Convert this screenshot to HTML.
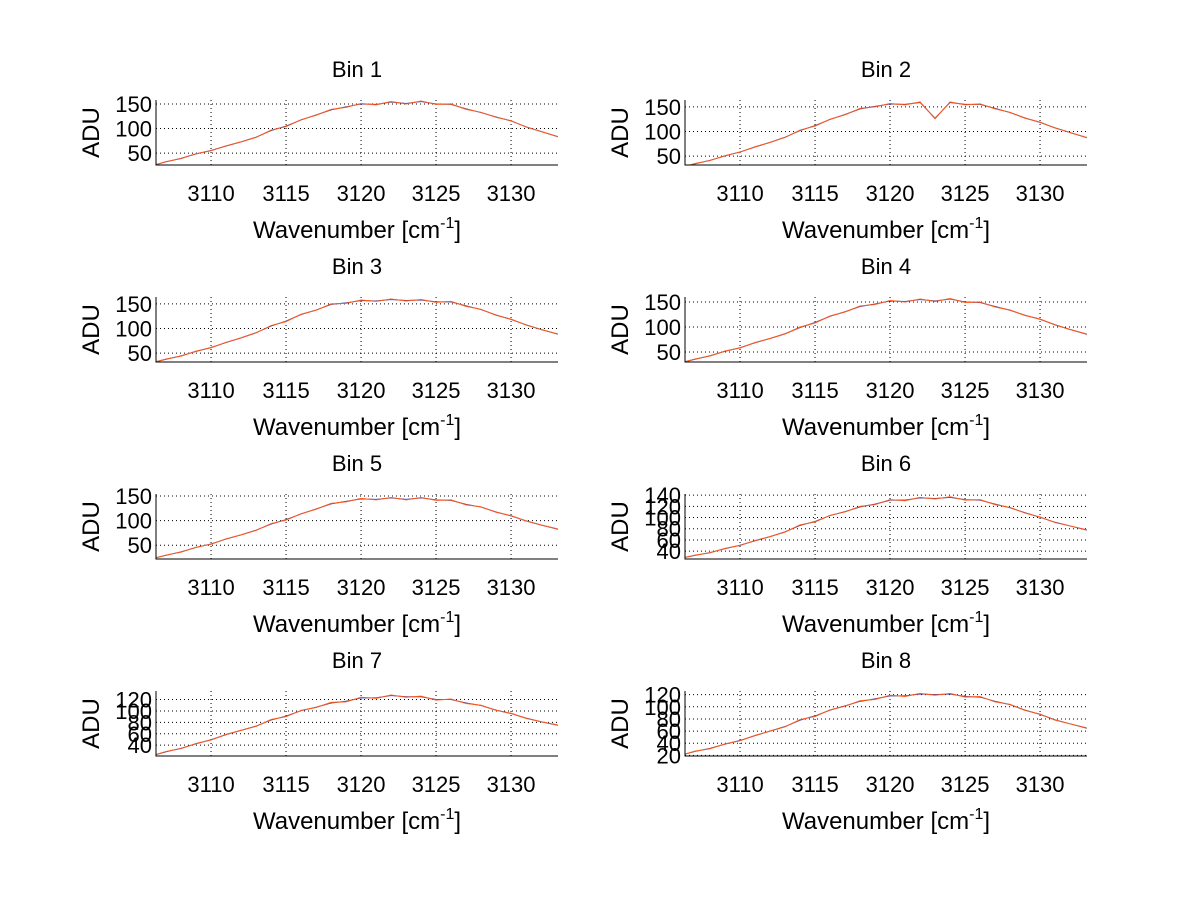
<!DOCTYPE html>
<html><head><meta charset="utf-8"><style>
body{margin:0;background:#fff}
svg{display:block}
text{font-family:"Liberation Sans",Arial,sans-serif;fill:#000}
</style></head><body>
<svg id="fig" width="1200" height="901" viewBox="0 0 1200 901"></svg>
<script>
const wavenumbers=[3106,3107,3108,3109,3110,3111,3112,3113,3114,3115,3116,3117,3118,3119,3120,3121,3122,3123,3124,3125,3126,3127,3128,3129,3130,3131,3132,3133,3134];
const bin1=[24,32,40,48,56,64,73,83,95,106,117,128,137,145,149,150,153,152,154,151,148,141,132,124,115,104,94,84,76];
const bin2=[26,34,42,50,59,68,78,89,101,113,124,135,145,152,155,156,158,128,158,156,154,148,138,128,118,108,98,88,80];
const bin3=[30,37,45,53,62,71,81,92,104,116,128,138,148,153,156,157,158,158,157,155,153,147,138,128,118,108,98,89,82];
const bin4=[28,35,43,51,59,68,77,87,98,110,121,131,140,147,151,152,154,153,155,151,148,142,133,124,115,105,95,86,78];
const bin5=[22,29,37,45,53,62,71,81,92,103,113,124,133,140,143,144,145,144,145,143,140,134,127,118,109,100,91,83,75];
const bin6=[27,32,38,44,51,58,66,75,85,94,103,111,118,125,130,132,134,135,135,133,130,125,117,109,100,92,85,78,72];
const bin7=[21,28,35,42,50,58,66,74,83,92,100,107,113,118,122,124,126,126,124,121,119,115,109,102,95,88,81,75,70];
const bin8=[20,26,32,38,45,52,60,68,77,86,94,102,108,114,117,119,120,121,120,118,115,110,103,95,87,79,72,65,60];
const noise=[0,1,-1,1,-1,1,0,-1,2,-2,1,-1,2,-2,2,-2,2,-2,2,-2,2,-2,1,-1,1,-1,0,1,-1];
const binData=[bin1,bin2,bin3,bin4,bin5,bin6,bin7,bin8];
const yRanges=[[26,158],[32,164],[32,164],[30,160],[22,154],[26,142],[21,135],[19,126]];
const yTicks=[[50,100,150],[50,100,150],[50,100,150],[50,100,150],[50,100,150],[40,60,80,100,120,140],[40,60,80,100,120],[20,40,60,80,100,120]];
const xTicks=[3110,3115,3120,3125,3130];
const xMin=3106.33,xMax=3133.13;

const NS="http://www.w3.org/2000/svg";
const svg=document.getElementById('fig');
function mk(tag,attrs,parent){const e=document.createElementNS(NS,tag);for(const k in attrs)e.setAttribute(k,attrs[k]);(parent||svg).appendChild(e);return e;}
const colX=[156,685],W=402,H=65,rowY=[100,297,494,691];
mk('defs',{}).innerHTML=rowY.flatMap((r,ri)=>colX.map((c,ci)=>`<clipPath id="c${ri}${ci}"><rect x="${c}" y="${r}" width="${W}" height="${H}"/></clipPath>`)).join('');
binData.forEach((data,i)=>{
  const ci=i%2,ri=Math.floor(i/2),x0=colX[ci],y0=rowY[ri];
  const g=mk('g',{});
  
  
  const [ymin,ymax]=yRanges[i];
  const sx=v=>x0+(v-xMin)/(xMax-xMin)*W;
  const sy=v=>y0+H-(v-ymin)/(ymax-ymin)*H;
  xTicks.forEach(t=>{
    const l=mk('line',{x1:sx(t),x2:sx(t),y1:y0,y2:y0+H,stroke:'#000','stroke-dasharray':'1,3','stroke-width':1},g);
    
    const tx=mk('text',{x:sx(t),y:y0+H+36,'font-size':22,'text-anchor':'middle'},g);tx.textContent=t;
    
  });
  yTicks[i].forEach(t=>{
    const l=mk('line',{x1:x0,x2:x0+W,y1:sy(t),y2:sy(t),stroke:'#000','stroke-dasharray':'1,3','stroke-width':1},g);
    
    const tx=mk('text',{x:x0-4,y:sy(t)+8,'font-size':22,'text-anchor':'end'},g);tx.textContent=t;
    
  });
  const pb=data.map((v,k)=>sx(wavenumbers[k])+','+sy(v+noise[k]*0.5)).join(' ');
  const blue=mk('polyline',{points:pb,fill:'none',stroke:'#3a3aa0','stroke-width':1,'clip-path':`url(#c${ri}${ci})`},g);
  
  const po=data.map((v,k)=>sx(wavenumbers[k])+','+sy(v+noise[k])).join(' ');
  const or=mk('polyline',{points:po,fill:'none',stroke:'#ff5a1a','stroke-width':1,'clip-path':`url(#c${ri}${ci})`},g);
  
  const ax=mk('path',{d:`M${x0},${y0}V${y0+H}H${x0+W}`,fill:'none',stroke:'#000','stroke-width':1},g);
  
  const ti=mk('text',{x:x0+W/2,y:y0-23,'font-size':22,'text-anchor':'middle'},g);ti.textContent='Bin '+(i+1);
  
  const xl=mk('text',{x:x0+W/2,y:y0+H+73,'font-size':24,'text-anchor':'middle'},g);
  xl.innerHTML='Wavenumber [cm<tspan dy="-10" font-size="16">-1</tspan><tspan dy="10">]</tspan>';
  
  const yl=mk('text',{x:0,y:0,'font-size':24,'text-anchor':'middle',transform:`translate(${x0-57},${y0+H/2}) rotate(-90)`},g);yl.textContent='ADU';
  
});
</script>
</body></html>
